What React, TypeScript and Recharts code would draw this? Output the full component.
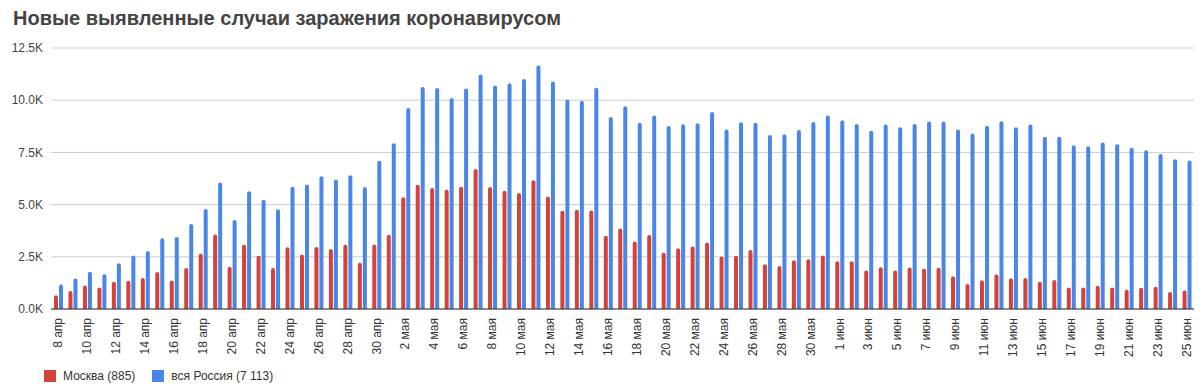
import { BarChart, Bar, XAxis, YAxis, CartesianGrid } from "recharts";

const dates = [
  "8 апр", "9 апр", "10 апр", "11 апр", "12 апр", "13 апр", "14 апр", "15 апр", "16 апр", "17 апр",
  "18 апр", "19 апр", "20 апр", "21 апр", "22 апр", "23 апр", "24 апр", "25 апр", "26 апр", "27 апр",
  "28 апр", "29 апр", "30 апр", "1 мая", "2 мая", "3 мая", "4 мая", "5 мая", "6 мая", "7 мая",
  "8 мая", "9 мая", "10 мая", "11 мая", "12 мая", "13 мая", "14 мая", "15 мая", "16 мая", "17 мая",
  "18 мая", "19 мая", "20 мая", "21 мая", "22 мая", "23 мая", "24 мая", "25 мая", "26 мая", "27 мая",
  "28 мая", "29 мая", "30 мая", "31 мая", "1 июн", "2 июн", "3 июн", "4 июн", "5 июн", "6 июн",
  "7 июн", "8 июн", "9 июн", "10 июн", "11 июн", "12 июн", "13 июн", "14 июн", "15 июн", "16 июн",
  "17 июн", "18 июн", "19 июн", "20 июн", "21 июн", "22 июн", "23 июн", "24 июн", "25 июн",
];

const moscow = [
  660, 857, 1124, 1030, 1306, 1355, 1489, 1774, 1370, 1959,
  2649, 3570, 2026, 3083, 2548, 1959, 2957, 2612, 2971, 2871,
  3075, 2220, 3093, 3561, 5358, 5948, 5795, 5714, 5858, 6703,
  5846, 5667, 5551, 6169, 5392, 4703, 4748, 4713, 3505, 3855,
  3238, 3545, 2699, 2913, 2988, 3190, 2516, 2550, 2830, 2140,
  2054, 2332, 2380, 2566, 2286, 2286, 1842, 1998, 1842, 1983,
  1929, 1974, 1572, 1195, 1380, 1657, 1475, 1486, 1305, 1393,
  1029, 1024, 1117, 1032, 926, 1017, 1068, 814, 885,
];

const russia = [
  1175, 1459, 1786, 1667, 2186, 2558, 2774, 3388, 3448, 4070,
  4785, 6060, 4268, 5642, 5236, 4774, 5849, 5966, 6361, 6198,
  6411, 5841, 7099, 7933, 9623, 10633, 10581, 10102, 10559, 11231,
  10699, 10817, 11012, 11656, 10899, 10028, 9974, 10598, 9200, 9709,
  8926, 9263, 8764, 8849, 8894, 9434, 8599, 8946, 8915, 8338,
  8371, 8572, 8952, 9268, 9035, 8863, 8536, 8831, 8705, 8855,
  8984, 8985, 8595, 8404, 8779, 8987, 8706, 8835, 8246, 8248,
  7843, 7790, 7972, 7889, 7728, 7600, 7425, 7176, 7113,
];

const yTicks = [0, 2500, 5000, 7500, 10000, 12500];

const seriesNames = ["Москва (885)", "вся Россия (7 113)"];
const seriesColors = ["#d2433a", "#4a86e8"];

const title = "Новые выявленные случаи заражения коронавирусом";

const data = dates.map((d, i) => ({ date: d, moscow: moscow[i], russia: russia[i] }));

const FONT = "'Liberation Sans', Arial, sans-serif";

const DateTick = ({ x, y, payload }: any) => (
  <text
    x={x}
    y={y}
    transform={`rotate(-90, ${x}, ${y})`}
    textAnchor="end"
    dominantBaseline="central"
    fontSize={12}
    fontFamily={FONT}
    fill="#333"
  >
    {payload.value}
  </text>
);

export default function App() {
  return (
    <div style={{ position: "absolute", left: 0, top: 0, width: 1200, height: 391, background: "#fff" }}>
      <svg width={1200} height={40} style={{ position: "absolute", left: 0, top: 0 }}>
        <text x={13} y={25} fontSize={20} fontWeight="bold" fontFamily={FONT} fill="#444">
          {title}
        </text>
      </svg>
      <div style={{ position: "absolute", left: 0, top: 0 }}>
        <BarChart
          width={1200}
          height={391}
          data={data}
          margin={{ top: 48, right: 6, bottom: 0, left: 8 }}
          barSize={4}
          barGap={1}
        >
          <CartesianGrid vertical={false} stroke="#cccccc" />
          <XAxis
            dataKey="date"
            interval={1}
            height={82}
            tickLine={false}
            tickSize={0}
            tickMargin={9}
            axisLine={{ stroke: "#333", strokeWidth: 1 }}
            tick={<DateTick />}
          />
          <YAxis
            width={43}
            domain={[0, 12500]}
            ticks={yTicks}
            axisLine={false}
            tickLine={false}
            tickSize={0}
            tickMargin={8}
            tickFormatter={(v: number) => (v / 1000).toFixed(1) + "K"}
            tick={{ fontSize: 12, fontFamily: FONT, fill: "#444" }}
          />
          <Bar dataKey="moscow" name={seriesNames[0]} fill={seriesColors[0]} radius={[2, 2, 0, 0]} isAnimationActive={false} />
          <Bar dataKey="russia" name={seriesNames[1]} fill={seriesColors[1]} radius={[2, 2, 0, 0]} isAnimationActive={false} />
        </BarChart>
      </div>
      <div
        style={{
          position: "absolute",
          left: 44,
          top: 369,
          display: "flex",
          alignItems: "center",
          fontFamily: FONT,
          fontSize: 12,
          color: "#333",
          lineHeight: "14px",
        }}
      >
        {seriesNames.map((n, i) => (
          <div key={n} style={{ display: "flex", alignItems: "center", marginRight: 17 }}>
            <span style={{ display: "inline-block", width: 12, height: 12, background: seriesColors[i], marginRight: 7 }} />
            <span>{n}</span>
          </div>
        ))}
      </div>
    </div>
  );
}
